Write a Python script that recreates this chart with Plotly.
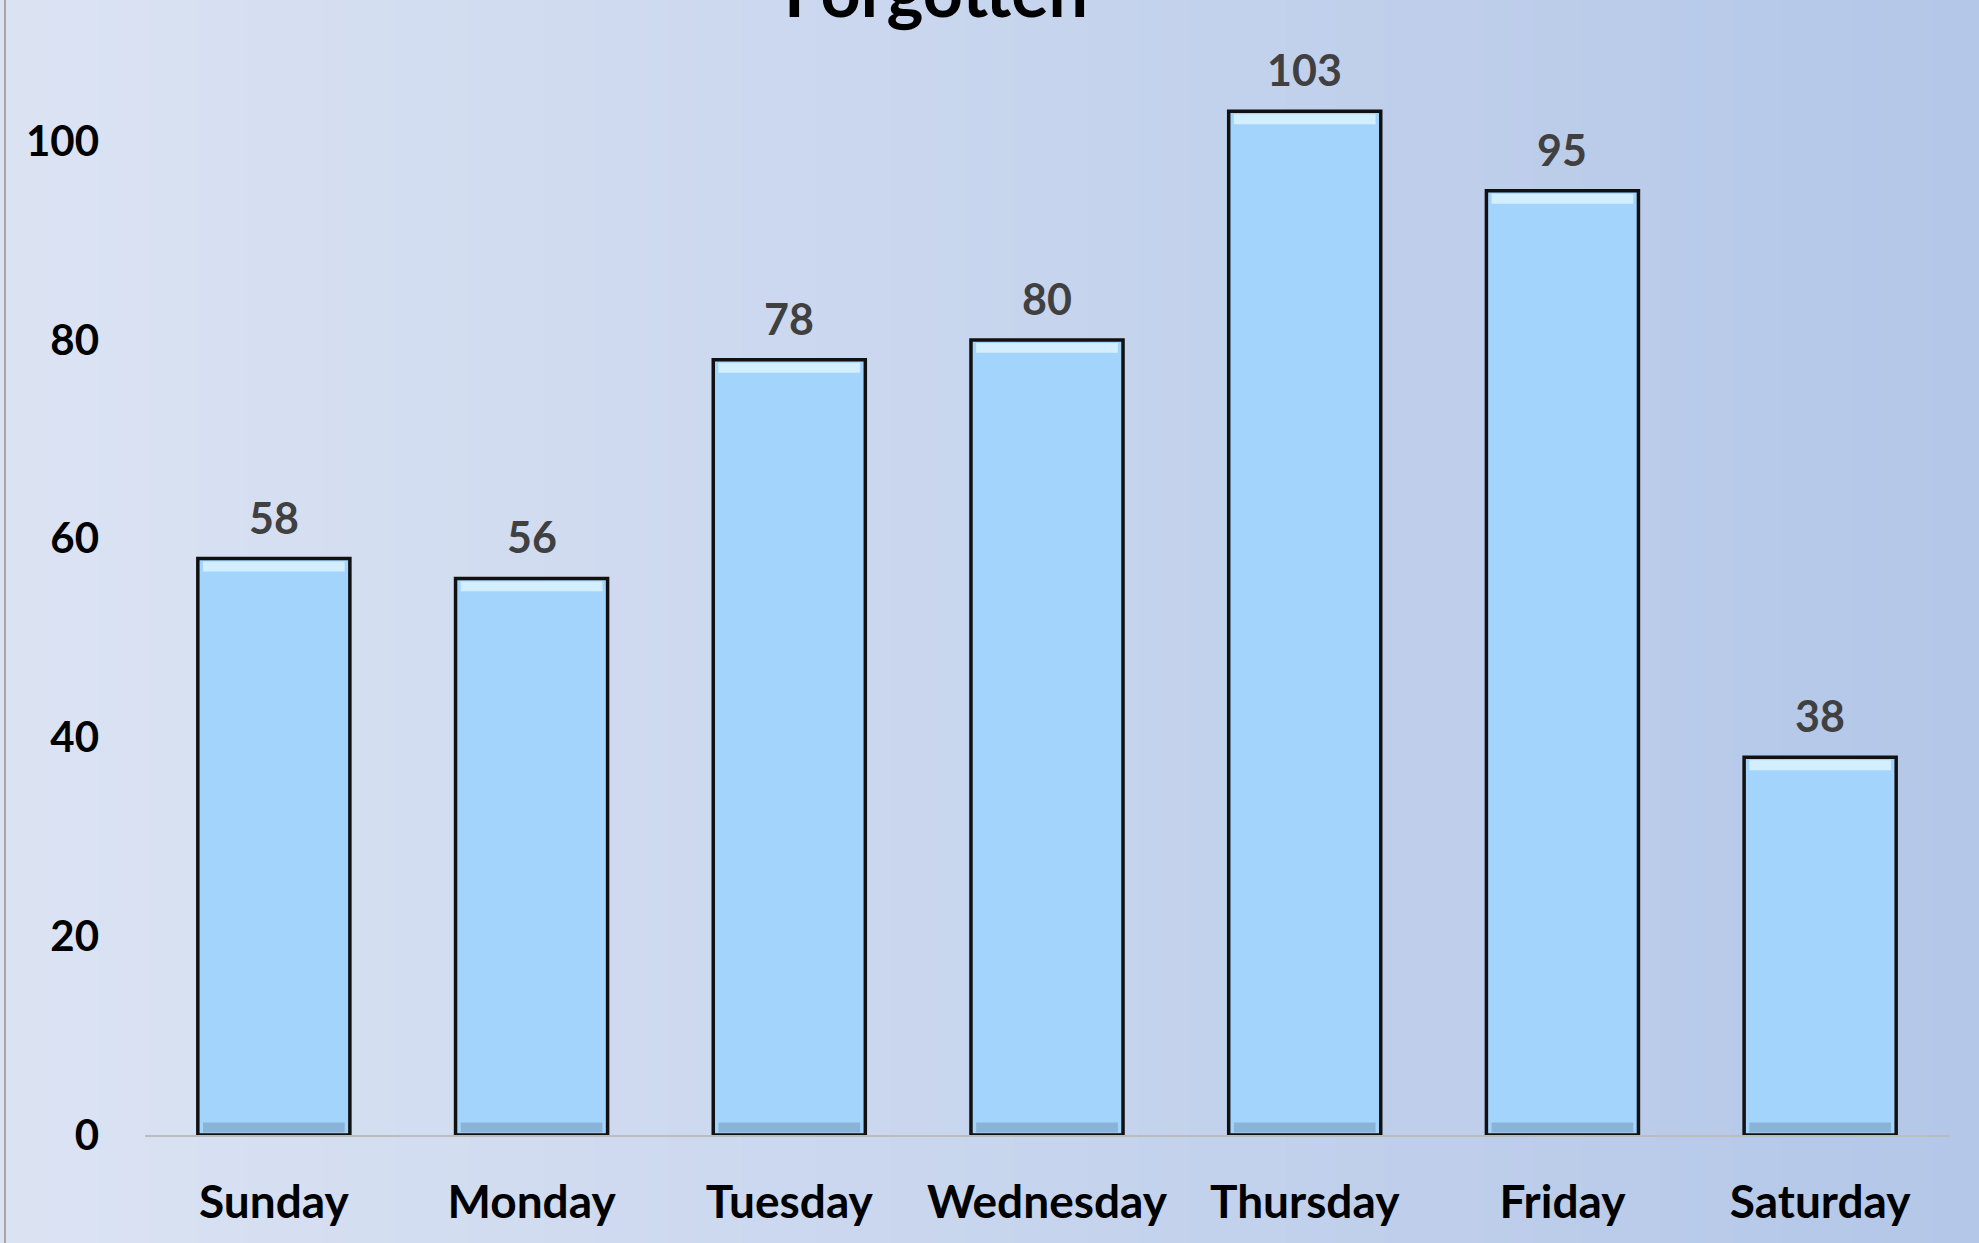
import plotly.graph_objects as go

days = ["Sunday", "Monday", "Tuesday", "Wednesday", "Thursday", "Friday", "Saturday"]
counts = [58, 56, 78, 80, 103, 95, 38]
y_ticks = [0, 20, 40, 60, 80, 100]
title_text = "Forgotten"

W, H = 1979, 1243
ml, mr, mt, mb = 145, 30, 0, 108
pw = W - ml - mr

fig = go.Figure()

# main bars
fig.add_trace(go.Bar(
    x=days, y=counts,
    marker=dict(color="#a3d5fc", line=dict(color="#111111", width=3.5)),
    width=0.59, hoverinfo="skip",
))
# top bevel highlight
fig.add_trace(go.Bar(
    x=days, y=[1.0] * len(counts), base=[c - 1.3 for c in counts],
    marker=dict(color="#d3eeff", line=dict(width=0)),
    width=0.55, hoverinfo="skip",
))
# bottom bevel shade
fig.add_trace(go.Bar(
    x=days, y=[1.0] * len(counts), base=[0.25] * len(counts),
    marker=dict(color="#8ab3d8", line=dict(width=0)),
    width=0.55, hoverinfo="skip",
))

# value labels
for d, c in zip(days, counts):
    fig.add_annotation(x=d, y=c, text=str(c), showarrow=False, yanchor="bottom",
                       yshift=14, font=dict(family="Lato", size=43, color="#404040", weight="bold"))

# background gradient
n = 80
x0p = -ml / pw
x1p = (W - ml) / pw
for i in range(n):
    t = i / (n - 1)
    r = int(round(0xdb + (0xb4 - 0xdb) * t))
    g = int(round(0xe3 + (0xc7 - 0xe3) * t))
    b = int(round(0xf3 + (0xe8 - 0xf3) * t))
    fig.add_shape(type="rect", xref="paper", yref="paper",
                  x0=x0p + (x1p - x0p) * i / n, x1=x0p + (x1p - x0p) * (i + 1) / n + 0.001,
                  y0=-1, y1=2, fillcolor=f"rgb({r},{g},{b})", line=dict(width=0), layer="below")

# left border line
fig.add_shape(type="line", xref="paper", yref="paper", x0=(5 - ml) / pw, x1=(5 - ml) / pw,
              y0=-1, y1=2, line=dict(color="#a6a6a6", width=2))

# cropped title
fig.add_annotation(xref="paper", yref="paper", x=(936 - ml) / pw, y=1.0, yanchor="middle",
                   yshift=10, text=title_text, showarrow=False,
                   font=dict(family="Lato", size=70, color="#000000", weight="bold"))

fig.update_layout(
    width=W, height=H,
    margin=dict(l=ml, r=mr, t=mt, b=mb, autoexpand=False),
    barmode="overlay",
    showlegend=False,
    paper_bgcolor="#dbe3f3",
    plot_bgcolor="rgba(0,0,0,0)",
    bargap=0.41,
)
fig.update_xaxes(showline=True, linecolor="#bcbcbc", linewidth=2, showgrid=False,
                 ticks="", ticklabelstandoff=26, automargin=False,
                 tickfont=dict(family="Lato", size=46, color="#000000", weight="bold"))
fig.update_yaxes(range=[0, 114.2], tickvals=y_ticks, showgrid=False, zeroline=False,
                 showline=False, ticks="", ticklabelstandoff=45, automargin=False,
                 tickfont=dict(family="Lato", size=42, color="#000000", weight="bold"))

fig.write_html("out.html", config={"displayModeBar": False},
               post_script="document.body.style.margin='0';document.body.style.overflow='hidden';")
